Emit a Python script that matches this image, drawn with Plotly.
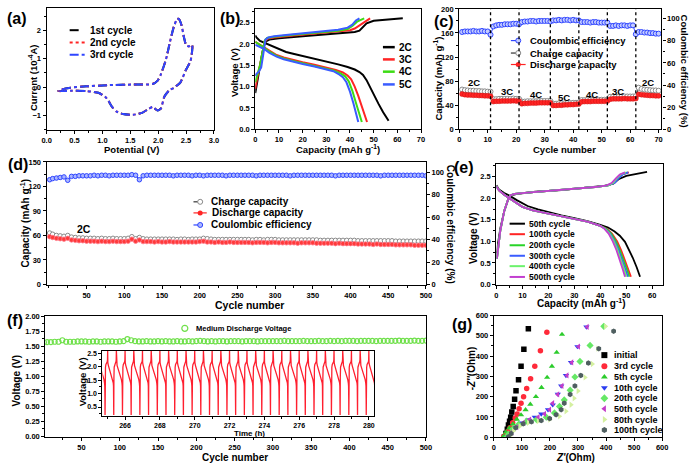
import plotly.graph_objects as go

W, H = 696, 468
FONT = "Liberation Sans, Arial, Helvetica, sans-serif"

# ---------------- (a) cyclic voltammetry ----------------
cv_potential = [0.21, 0.28, 0.43, 0.72, 1.13, 1.55, 1.90, 1.99, 2.05, 2.14, 2.22, 2.28, 2.34, 2.37, 2.42, 2.46, 2.50, 2.55, 2.61, 2.61,
                2.58, 2.49, 2.40, 2.28, 2.20, 2.11, 2.05, 1.99, 1.90, 1.83, 1.72, 1.55, 1.37, 1.25, 1.17, 1.11, 1.05, 0.93, 0.72, 0.43, 0.21]
cv_current = [-0.14, -0.08, -0.02, 0.03, 0.07, 0.09, 0.11, 0.23, 0.46, 0.98, 1.67, 2.13, 2.41, 2.41, 2.18, 1.78, 1.49, 1.44, 1.49, 1.30,
              0.92, 0.58, 0.17, -0.03, -0.11, -0.34, -0.75, -0.83, -0.70, -0.77, -0.90, -0.98, -0.95, -0.86, -0.69, -0.49, -0.34, -0.20, -0.14, -0.13, -0.14]
cv_names = ["1st cycle", "2nd cycle", "3rd cycle"]

# ---------------- (b) rate charge/discharge profiles ----------------
b_rates = ["2C", "3C", "4C", "5C"]
b_dis_cap = {
    "2C": [0, 0.5, 2, 4, 6, 8, 10, 13, 16, 20, 25, 30, 35, 39, 42, 44, 45.5, 47, 48.5, 50, 52, 54, 56.3],
    "3C": [0, 2, 4, 6, 9, 12, 16, 20, 25, 30, 34, 37, 39, 40.5, 42, 43.5, 45, 46.2, 47.2],
    "4C": [0, 2, 4, 6, 9, 12, 16, 20, 25, 30, 33, 36, 38, 39.5, 41, 42.5, 44, 45],
    "5C": [0, 2, 4, 6, 9, 12, 16, 20, 25, 30, 33, 35, 37, 38.5, 40, 41.5, 42.5, 43.5],
}
b_dis_v = {
    "2C": [2.2, 2.15, 2.07, 2.02, 1.98, 1.93, 1.88, 1.81, 1.77, 1.72, 1.65, 1.59, 1.52, 1.46, 1.4, 1.34, 1.27, 1.15, 0.98, 0.8, 0.6, 0.4, 0.2],
    "3C": [2.05, 1.98, 1.92, 1.85, 1.74, 1.68, 1.62, 1.57, 1.51, 1.45, 1.39, 1.33, 1.26, 1.17, 1.0, 0.78, 0.55, 0.35, 0.17],
    "4C": [2.05, 1.97, 1.9, 1.82, 1.72, 1.66, 1.6, 1.55, 1.49, 1.43, 1.38, 1.31, 1.24, 1.12, 0.9, 0.62, 0.35, 0.17],
    "5C": [1.98, 1.93, 1.87, 1.79, 1.7, 1.64, 1.58, 1.53, 1.47, 1.41, 1.36, 1.3, 1.22, 1.1, 0.88, 0.6, 0.38, 0.17],
}
b_chg_cap = {
    "2C": [0, 0.3, 1, 2, 3, 3.8, 4.5, 6, 10, 20, 30, 38, 42, 44, 45.5, 47, 50, 55, 62.3],
    "3C": [0, 0.3, 1, 2, 3, 4, 5, 8, 15, 25, 35, 40, 42, 44, 46, 48.5],
    "4C": [0, 0.3, 1, 2, 3, 4, 5, 8, 15, 25, 35, 39, 41, 43, 46],
    "5C": [0, 0.5, 1.5, 2.5, 3.5, 4.3, 5.5, 8, 15, 25, 35, 39, 41, 42.5, 44],
}
b_chg_v = {
    "2C": [0.85, 0.95, 1.15, 1.5, 1.8, 1.98, 2.06, 2.1, 2.13, 2.18, 2.22, 2.26, 2.28, 2.31, 2.4, 2.48, 2.54, 2.57, 2.6],
    "3C": [0.95, 1.05, 1.25, 1.5, 1.8, 2.05, 2.12, 2.15, 2.19, 2.24, 2.28, 2.32, 2.36, 2.43, 2.52, 2.6],
    "4C": [1.1, 1.18, 1.3, 1.5, 1.8, 2.08, 2.14, 2.17, 2.21, 2.26, 2.31, 2.35, 2.42, 2.52, 2.6],
    "5C": [1.25, 1.3, 1.35, 1.45, 1.8, 2.1, 2.15, 2.18, 2.22, 2.27, 2.33, 2.38, 2.45, 2.55, 2.6],
}

# ---------------- (c) rate capability ----------------
c_cycles = list(range(1, 71))
c_discharge = [58.5, 57.5, 57, 57, 56.5, 56.5, 56, 56, 55.5, 55.5, 55,
               46, 46.5, 46.5, 47, 47, 47, 47, 47.5, 47, 47,
               42.5, 43, 43, 43.5, 43.5, 43.5, 44, 44, 44, 44, 44,
               39.5, 39.5, 40, 40, 40.5, 40.5, 41, 41, 41.5, 42,
               45.5, 46, 46, 46, 46.5, 46.5, 46.5, 46.5, 46.5, 47,
               50, 50.5, 50.5, 50.5, 50.5, 51, 50.5, 50.5, 50.5, 51,
               58, 57.5, 57, 56.5, 56, 56, 55.5, 55.5]
c_charge = [66, 65, 64.5, 64, 64, 63.5, 63.5, 63, 63, 62.5, 62.5,
            50, 50, 50.5, 50.5, 50.5, 50.5, 50.5, 51, 50.5, 50.5,
            46, 46, 46.5, 46.5, 46.5, 46.5, 47, 47, 47, 47, 47,
            42.5, 42.5, 43, 43, 43, 43.5, 43.5, 44, 44, 44.5,
            48.5, 48.5, 49, 49, 49, 49, 49, 49, 49, 49.5,
            54, 54, 54, 54, 54.5, 54.5, 54.5, 54.5, 54.5, 55,
            69, 67, 66, 65.5, 65, 64.5, 64.5, 64]
c_ce = [88, 88.5, 88.5, 88.5, 89, 88.5, 88.5, 89, 88.5, 88.5, 85.5,
        93, 94, 94.5, 94.5, 95, 95, 95, 95.5, 95.5, 95,
        97, 97.5, 97.5, 98, 98, 97.5, 98, 98, 98, 98, 97.5,
        98.5, 98.5, 99, 98.5, 99, 99, 98.5, 99, 98.5, 98.5,
        97, 97, 97, 96.5, 97, 97, 96.5, 96.5, 96.5, 96.5,
        93.5, 93.5, 94, 93.5, 94, 94, 93.5, 94, 94, 86,
        88, 88, 87.5, 87.5, 87, 87, 86.5, 86.5]
c_boundaries = [11, 21, 32, 42, 52, 62]
c_rate_labels = ["2C", "3C", "4C", "5C", "4C", "3C", "2C"]
c_rate_label_x = [5.2, 16.7, 27, 36.9, 46.7, 55.9, 66.3]
c_rate_label_y = [77, 62, 57, 53, 57, 62, 77]

# ---------------- (d) long cycling at 2C ----------------
d_cycles = [1] + list(range(5, 501, 5))
d_charge = [63, 61.5, 60, 59.5, 59, 60, 58, 57.5, 57, 57, 56.5,
            56.5, 56.5, 56, 56.5, 56, 56, 56.5, 56, 56, 56,
            56.5, 58.5, 56, 57.5, 56, 55.5, 55.5, 55.5, 55.5, 55.5,
            55.5, 55.5, 55.5, 55, 55.5, 55.5, 55, 55.5, 55.5, 55.5,
            56.5, 56, 55.5, 55, 55, 55, 55, 55, 55, 55,
            55, 55, 55, 54.5, 55, 55, 54.5, 55, 55, 55,
            54.5, 54.5, 54.5, 54.5, 54.5, 54.5, 54.5, 54.5, 54.5, 54.5,
            54.5, 54, 54, 54, 54, 54, 54, 54, 54, 54,
            54, 53.5, 53.5, 53.5, 53.5, 53.5, 53.5, 53.5, 53.5, 53.5,
            53.5, 53, 53, 53, 53, 53, 53, 53, 53, 53]
d_discharge = [58.5, 57.5, 56.5, 56, 55.5, 56.5, 54.5, 54, 53.5, 53.5, 53,
               53, 53, 52.5, 53, 52.5, 52.5, 53, 52.5, 52.5, 52.5,
               53, 55.5, 53, 54.5, 52.5, 52.5, 52.5, 52, 52.5, 52,
               52, 52.5, 52, 52, 52, 52, 52, 52, 52, 52.5,
               53, 52, 52, 51.5, 52, 51.5, 51.5, 52, 51.5, 51.5,
               51.5, 51.5, 51.5, 51, 51.5, 51.5, 51.5, 51, 51.5, 51.5,
               51, 51, 51, 51, 51, 50.5, 51, 51, 51, 51,
               50.5, 50.5, 50.5, 50.5, 50.5, 50, 50.5, 50, 50, 50,
               50, 49.5, 49.5, 49.5, 49.5, 49, 49.5, 49, 49, 49,
               49, 48.5, 48.5, 48.5, 48.5, 48.5, 48, 48, 48, 48]
d_ce = [93.5, 94.5, 95, 95.5, 96, 93, 96.5, 96.5, 97, 97, 97,
        97, 97.5, 97, 97.5, 97.5, 97, 97.5, 97.5, 97.5, 97.5,
        97.5, 98, 97.5, 93.5, 97, 97.5, 97.5, 97.5, 97.5, 97.5,
        97.5, 97.5, 97, 97.5, 97.5, 97.5, 97.5, 97, 97.5, 97.5,
        97, 97.5, 97.5, 97.5, 97.5, 97.5, 97, 97.5, 97.5, 97.5,
        97.5, 97.5, 97.5, 97.5, 97, 97.5, 97.5, 97.5, 97.5, 97.5,
        97.5, 97.5, 97.5, 97, 97.5, 97.5, 97.5, 97.5, 97.5, 97.5,
        97.5, 97.5, 97.5, 97.5, 97.5, 97, 97.5, 97.5, 97.5, 97.5,
        97.5, 97.5, 97.5, 97.5, 97.5, 97.5, 97.5, 97, 97.5, 97.5,
        97.5, 97.5, 97.5, 97.5, 97.5, 97.5, 97.5, 97.5, 97.5, 97]

# ---------------- (e) profiles at selected cycles ----------------
e_names = ["50th cycle", "100th cycle", "200th cycle", "300th cycle", "400th cycle", "500th cycle"]
e_dis_v_50 = [2.30, 2.20, 2.12, 2.06, 1.95, 1.82, 1.74, 1.67, 1.60, 1.54, 1.47, 1.38, 1.32, 1.23, 1.13, 0.99, 0.82, 0.62, 0.40, 0.18]
e_dis_v_late = [2.28, 2.18, 2.08, 2.00, 1.90, 1.80, 1.72, 1.65, 1.59, 1.53, 1.46, 1.36, 1.29, 1.18, 1.00, 0.80, 0.57, 0.36, 0.18]
e_chg_v_50 = [0.72, 0.95, 1.30, 1.70, 1.97, 2.07, 2.10, 2.15, 2.19, 2.24, 2.29, 2.34, 2.44, 2.52, 2.57, 2.61]
e_chg_v_late = [0.60, 0.85, 1.25, 1.70, 1.97, 2.07, 2.10, 2.13, 2.17, 2.21, 2.26, 2.30, 2.36, 2.46, 2.55, 2.60]
e_dis_cap = {
    "50th cycle": [0, 1, 3, 5, 8, 12, 16, 20, 25, 30, 35, 40, 43, 45.5, 47.5, 49.5, 51, 52.5, 54, 55.3],
    "100th cycle": [0, 1, 3, 5, 7, 10, 14, 20, 25, 30, 35, 40, 42.5, 44.5, 46.5, 48, 49.5, 50.8, 51.8],
    "200th cycle": [0, 1, 3, 5, 7, 10, 14, 20, 25, 30, 35, 40, 42.3, 44.2, 46, 47.5, 49, 50.2, 51.2],
    "300th cycle": [0, 1, 3, 5, 7, 10, 14, 20, 25, 30, 35, 40, 42, 43.8, 45.5, 47, 48.5, 49.6, 50.6],
    "400th cycle": [0, 1, 3, 5, 7, 10, 14, 20, 25, 30, 35, 40, 41.8, 43.5, 45.2, 46.6, 48, 49.1, 50],
    "500th cycle": [0, 1, 3, 5, 7, 10, 14, 20, 25, 30, 35, 40, 41.6, 43.2, 44.8, 46.2, 47.6, 48.6, 49.5],
}
e_chg_cap = {
    "50th cycle": [0.2, 0.6, 1.5, 3, 4.5, 6, 8, 15, 25, 35, 42, 45, 47, 50, 54, 58],
    "100th cycle": [0.2, 0.6, 1.5, 3, 4.5, 5.5, 7, 12, 20, 30, 38, 43, 45, 46.5, 48, 51],
    "200th cycle": [0.2, 0.6, 1.5, 3, 4.5, 5.5, 7, 12, 20, 30, 38, 43, 45.3, 46.8, 48.3, 50.5],
    "300th cycle": [0.2, 0.6, 1.5, 3, 4.5, 5.5, 7, 12, 20, 30, 38, 43, 45.6, 47, 48.6, 50.8],
    "400th cycle": [0.2, 0.6, 1.5, 3, 4.5, 5.5, 7, 12, 20, 30, 38, 43, 45, 46.3, 47.8, 49.8],
    "500th cycle": [0.2, 0.6, 1.5, 3, 4.5, 5.5, 7, 12, 20, 30, 38, 42.5, 44.5, 46, 47.5, 49.5],
}

# ---------------- (f) medium discharge voltage + inset ----------------
f_cycles = [1] + list(range(5, 501, 5))
f_mdv = [1.565, 1.57, 1.57, 1.575, 1.575, 1.60, 1.575, 1.575, 1.575, 1.58, 1.58,
         1.58, 1.575, 1.58, 1.58, 1.575, 1.58, 1.58, 1.58, 1.575, 1.58,
         1.585, 1.62, 1.60, 1.585, 1.58, 1.58, 1.585, 1.58, 1.58, 1.585,
         1.58, 1.585, 1.58, 1.58, 1.585, 1.58, 1.58, 1.585, 1.58, 1.585,
         1.59, 1.585, 1.58, 1.585, 1.58, 1.585, 1.585, 1.58, 1.585, 1.585,
         1.585, 1.58, 1.585, 1.585, 1.585, 1.58, 1.585, 1.585, 1.585, 1.585,
         1.585, 1.585, 1.59, 1.585, 1.585, 1.585, 1.585, 1.59, 1.585, 1.585,
         1.585, 1.59, 1.585, 1.585, 1.59, 1.585, 1.59, 1.585, 1.59, 1.59,
         1.59, 1.585, 1.59, 1.59, 1.59, 1.59, 1.585, 1.59, 1.59, 1.59,
         1.59, 1.59, 1.595, 1.59, 1.59, 1.59, 1.595, 1.59, 1.59, 1.595]
inset_peak_times = [264.5, 265.0, 265.5, 266.0, 266.5, 267.0, 267.5, 268.0, 268.5, 269.0, 269.5,
                    270.0, 270.5, 271.0, 271.5, 272.0, 272.5, 273.0, 273.5, 274.0, 274.5,
                    275.0, 275.5, 276.0, 276.5, 277.0, 277.5, 278.0, 278.5, 279.0, 279.5, 280.0]
cycle_time_after_peak = [0.0, 0.01, 0.04, 0.10, 0.17, 0.24, 0.29, 0.32, 0.335, 0.345, 0.35, 0.36, 0.375, 0.40, 0.44, 0.475, 0.49]
cycle_voltage = [2.60, 2.15, 2.05, 1.92, 1.80, 1.66, 1.52, 1.40, 1.28, 0.80, 0.20, 1.60, 1.98, 2.08, 2.12, 2.18, 2.25]

# ---------------- (g) Nyquist plots ----------------
g_names = ["initial", "3rd cycle", "5th cycle", "10th cycle", "20th cycle", "50th cycle", "80th cycle", "100th cycle"]
g_zre = {
    "initial": [38, 43, 48, 52, 56, 60, 64, 69, 74, 79, 88, 97, 107, 123],
    "3rd cycle": [35, 41, 50, 58, 67, 76, 83, 90, 97, 106, 117, 131, 146, 166, 189],
    "5th cycle": [35, 43, 55, 68, 82, 97, 113, 130, 150, 170, 190, 207, 224, 243],
    "10th cycle": [47, 58, 76, 99, 123, 146, 169, 193, 210, 228, 240, 257, 275, 298, 330],
    "20th cycle": [47, 52, 67, 88, 117, 152, 187, 216, 234, 251, 272, 289, 307, 343, 392],
    "50th cycle": [52, 64, 82, 105, 128, 158, 181, 199, 210, 228, 243, 261, 278, 302, 333],
    "80th cycle": [58, 70, 93, 123, 158, 199, 234, 257, 275, 286, 300, 325, 351, 371, 398],
    "100th cycle": [52, 62, 78, 105, 134, 169, 199, 222, 240, 251, 272, 289, 310, 337, 374, 427],
}
g_zim = {
    "initial": [2, 18, 39, 60, 79, 98, 124, 152, 187, 229, 284, 350, 434, 535],
    "3rd cycle": [2, 10, 28, 47, 71, 95, 115, 141, 168, 200, 240, 289, 350, 426, 518],
    "5th cycle": [5, 25, 45, 65, 88, 110, 135, 162, 200, 245, 295, 350, 418, 507],
    "10th cycle": [2, 18, 47, 71, 87, 99, 115, 136, 160, 213, 253, 305, 369, 447, 544],
    "20th cycle": [2, 15, 39, 63, 79, 87, 99, 120, 152, 184, 232, 297, 374, 453, 547],
    "50th cycle": [2, 23, 50, 71, 87, 99, 115, 136, 168, 211, 253, 305, 369, 447, 544],
    "80th cycle": [7, 31, 55, 71, 79, 87, 103, 128, 160, 192, 228, 295, 361, 437, 547],
    "100th cycle": [2, 18, 47, 66, 76, 82, 92, 111, 136, 168, 211, 253, 305, 366, 437, 523],
}

# ---------------- styles ----------------
RED = "#ff2424"
BLUE = "#2f45ff"
b_colors = {"2C": "black", "3C": RED, "4C": "#3ddc14", "5C": "#3a5cff"}
e_colors = {"50th cycle": "black", "100th cycle": RED, "200th cycle": "#28d428",
            "300th cycle": "#3a5cff", "400th cycle": "#6cf26c", "500th cycle": "#c23fd0"}
g_style = {
    "initial": ("square", "black"),
    "3rd cycle": ("circle", "#ff2a3a"),
    "5th cycle": ("triangle-up", "#2ccc2c"),
    "10th cycle": ("triangle-down", "#2a3cf0"),
    "20th cycle": ("diamond", "#66e866"),
    "50th cycle": ("triangle-left", "#c43cc8"),
    "80th cycle": ("triangle-right", "#d4f0a0"),
    "100th cycle": ("hexagon", "#4f5f60"),
}


def xdom(p0, p1):
    return [p0 / W, p1 / W]


def ydom(p0, p1):
    return [1 - p1 / H, 1 - p0 / H]


def ax(**kw):
    d = dict(showline=True, linecolor="black", linewidth=1.2, mirror=True,
             ticks="outside", ticklen=3, tickwidth=1, tickcolor="black",
             tickfont=dict(family=FONT, size=7.5, color="black", weight="bold"),
             showgrid=False, zeroline=False, fixedrange=True)
    d.update(kw)
    return d


def minor(dt, t0=0):
    return dict(ticks="outside", ticklen=2, tickwidth=1, tickcolor="black", dtick=dt, tick0=t0)


fig = go.Figure()

# (a)
cv_styles = [("black", "dash"), (RED, "dot"), (BLUE, "dashdot")]
for name, (col, dash) in zip(cv_names, cv_styles):
    fig.add_trace(go.Scatter(x=cv_potential, y=cv_current, mode="lines", name=name,
                             line=dict(color=col, dash=dash, width=2, shape="spline", smoothing=0.5),
                             xaxis="x", yaxis="y", showlegend=False))
# (b)
for r in b_rates:
    fig.add_trace(go.Scatter(x=b_dis_cap[r], y=b_dis_v[r], mode="lines", line=dict(color=b_colors[r], width=2),
                             xaxis="x2", yaxis="y2", showlegend=False))
    fig.add_trace(go.Scatter(x=b_chg_cap[r], y=b_chg_v[r], mode="lines", line=dict(color=b_colors[r], width=2),
                             xaxis="x2", yaxis="y2", showlegend=False))
# (c)
fig.add_trace(go.Scatter(x=c_cycles, y=c_ce, mode="lines+markers", line=dict(color=BLUE, width=1),
                         marker=dict(symbol="circle", size=5, color="#c4ccff", line=dict(color=BLUE, width=1)),
                         xaxis="x3", yaxis="y4", showlegend=False))
fig.add_trace(go.Scatter(x=c_cycles, y=c_charge, mode="lines+markers", line=dict(color="#333333", width=1),
                         marker=dict(symbol="circle", size=5, color="white", line=dict(color="#8a8a8a", width=1)),
                         xaxis="x3", yaxis="y3", showlegend=False))
fig.add_trace(go.Scatter(x=c_cycles, y=c_discharge, mode="lines+markers", line=dict(color=RED, width=1),
                         marker=dict(symbol="circle", size=5, color=RED, line=dict(color="#d01010", width=0.5)),
                         xaxis="x3", yaxis="y3", showlegend=False))
# (d)
fig.add_trace(go.Scatter(x=d_cycles, y=d_ce, mode="lines+markers", line=dict(color=BLUE, width=1),
                         marker=dict(symbol="circle", size=4.5, color="#aab6ff", line=dict(color=BLUE, width=1)),
                         xaxis="x5", yaxis="y6", showlegend=False))
fig.add_trace(go.Scatter(x=d_cycles, y=d_charge, mode="lines+markers", line=dict(color="#333333", width=1),
                         marker=dict(symbol="circle", size=4.5, color="white", line=dict(color="#8a8a8a", width=1)),
                         xaxis="x5", yaxis="y5", showlegend=False))
fig.add_trace(go.Scatter(x=d_cycles, y=d_discharge, mode="lines+markers", line=dict(color=RED, width=1),
                         marker=dict(symbol="circle", size=4.5, color="#ff3a3a", line=dict(color="#ff7a8a", width=0.8)),
                         xaxis="x5", yaxis="y5", showlegend=False))
# (e)
for n in e_names:
    dv = e_dis_v_50 if n == "50th cycle" else e_dis_v_late
    cv = e_chg_v_50 if n == "50th cycle" else e_chg_v_late
    fig.add_trace(go.Scatter(x=e_dis_cap[n], y=dv, mode="lines", line=dict(color=e_colors[n], width=1.8),
                             xaxis="x7", yaxis="y7", showlegend=False))
    fig.add_trace(go.Scatter(x=e_chg_cap[n], y=cv, mode="lines", line=dict(color=e_colors[n], width=1.8),
                             xaxis="x7", yaxis="y7", showlegend=False))
# (f)
fig.add_trace(go.Scatter(x=f_cycles, y=f_mdv, mode="markers",
                         marker=dict(symbol="circle-open", size=5, color="#6fe04a", line=dict(width=1.2)),
                         xaxis="x8", yaxis="y8", showlegend=False))
inset_t, inset_v = [], []
for tp in inset_peak_times:
    for dt, v in zip(cycle_time_after_peak, cycle_voltage):
        inset_t.append(tp + dt)
        inset_v.append(v)
fig.add_trace(go.Scatter(x=inset_t, y=inset_v, mode="lines", line=dict(color="#ff1f2f", width=1.3),
                         xaxis="x9", yaxis="y9", showlegend=False))
# (g)
for n in g_names:
    sym, col = g_style[n]
    fig.add_trace(go.Scatter(x=g_zre[n], y=g_zim[n], mode="markers",
                             marker=dict(symbol=sym, size=5.5, color=col, line=dict(width=0)),
                             xaxis="x10", yaxis="y10", showlegend=False))

# ---------------- legends (drawn on a full-figure pixel overlay) ----------------
def leg_line(x0, x1, y, color, dash="solid", width=2):
    fig.add_trace(go.Scatter(x=[x0, x1], y=[y, y], mode="lines", line=dict(color=color, dash=dash, width=width),
                             xaxis="x11", yaxis="y11", showlegend=False, hoverinfo="skip"))


def leg_marker(x, y, symbol, color, size=6, line_color=None, line_width=0):
    fig.add_trace(go.Scatter(x=[x], y=[y], mode="markers",
                             marker=dict(symbol=symbol, size=size, color=color,
                                         line=dict(color=line_color or color, width=line_width)),
                             xaxis="x11", yaxis="y11", showlegend=False, hoverinfo="skip"))


def txt(x, y, s, size=10, anchor="left", angle=0, bold=True):
    fig.add_annotation(x=x / W, y=1 - y / H, xref="paper", yref="paper", text=(f"<b>{s}</b>" if bold else s),
                       showarrow=False, xanchor=anchor if angle == 0 else "center", yanchor="middle",
                       textangle=angle, font=dict(family=FONT, size=size, color="black"))


# (a)
for (name, (col, dash)), yy in zip(zip(cv_names, cv_styles), [26.7, 39.3, 51.7]):
    leg_line(65.7, 81.7, yy, col, dash, 2)
    txt(84, yy, name, 10)
# (b)
for r, yy in zip(b_rates, [44, 56.5, 69, 82]):
    leg_line(384, 396, yy, b_colors[r], "solid", 2.5)
    txt(398, yy, r, 10)
# (c)
leg_line(514, 529, 37.3, BLUE, "dash", 1.2)
leg_marker(521.5, 37.3, "circle", "#c4ccff", 5, BLUE, 1)
txt(531, 37.3, "Coulombic efficiency", 9.5)
leg_line(514, 529, 50, "#333333", "dash", 1.2)
leg_marker(521.5, 50, "circle", "white", 5, "#8a8a8a", 1)
txt(531, 50, "Charge capacity", 9.5)
leg_line(514, 529, 61.7, RED, "solid", 1.2)
leg_marker(521.5, 61.7, "circle", RED, 5)
txt(531, 61.7, "Discharge capacity", 9.5)
# (d)
leg_line(191.5, 205, 201.7, "#333333", "dash", 1.2)
leg_marker(198.3, 201.7, "circle", "white", 5, "#8a8a8a", 1)
txt(207, 201.7, "Charge capacity", 10)
leg_line(191.5, 205, 213, RED, "solid", 1.2)
leg_marker(198.3, 213, "circle", RED, 5)
txt(208, 213, "Discharge capacity", 10)
leg_line(191.5, 205, 225.3, BLUE, "dash", 1.2)
leg_marker(198.3, 225.3, "circle", "#aab6ff", 5, BLUE, 1)
txt(207, 225.3, "Coulombic efficiency", 10)
# (e)
for n, yy in zip(e_names, [224, 234.7, 246, 256.7, 267.3, 278.3]):
    leg_line(512.7, 528.3, yy, e_colors[n], "solid", 2)
    txt(530, yy, n, 8.5)
# (f)
leg_marker(182.7, 330.7, "circle-open", "#6fe04a", 6, None, 1.2)
txt(191.7, 330.7, "Medium Discharge Voltage", 7.5)
# (g)
for n, yy in zip(g_names, [358, 369.3, 380.3, 391.3, 402, 412.7, 423.7, 434.3]):
    sym, col = g_style[n]
    leg_marker(609, yy, sym, col, 6)
    txt(617, yy, n, 9)

# ---------------- reference lines & labels in (c), (d) ----------------
for b in c_boundaries:
    fig.add_shape(type="line", x0=b, x1=b, y0=0, y1=1, xref="x3", yref="y3 domain",
                  line=dict(color="black", width=1.3, dash="dot"))
for lab, lx, ly in zip(c_rate_labels, c_rate_label_x, c_rate_label_y):
    fig.add_annotation(x=lx, y=ly, xref="x3", yref="y3", text=f"<b>{lab}</b>", showarrow=False,
                       font=dict(family=FONT, size=9.5, color="black"))
fig.add_annotation(x=46.5, y=68, xref="x5", yref="y5", text="<b>2C</b>", showarrow=False,
                   font=dict(family=FONT, size=10.5, color="black"))

# ---------------- axis titles & panel labels ----------------
cap_t = "Capacity (mAh g<sup>-1</sup>)"
txt(129, 148, "Potential (V)", 9.5, "center")
txt(28, 75, "Current (10<sup>-4</sup>A)", 9.5, angle=-90)
txt(338, 148, cap_t, 9.5, "center")
txt(233, 70, "Voltage (V)", 9.5, angle=-90)
txt(568, 148, "Cycle number", 9.5, "center")
txt(439, 76, cap_t, 9.5, angle=-90)
txt(690, 68, "Coulombic efficiency (%)", 9.5, angle=90)
txt(248, 307, "Cycle number", 10.5, "center")
txt(20, 224, cap_t, 10, angle=-90)
txt(452, 225, "Coulombic efficiency (%)", 10, angle=90)
txt(585, 305, cap_t, 10, "center")
txt(476, 239, "Voltage (V)", 10, angle=-90)
txt(234, 462, "Cycle number", 10, "center")
txt(12, 384, "Voltage (V)", 10, angle=-90)
txt(248, 438, "Time (h)", 8, "center")
txt(79, 385, "Voltage (V)", 9.5, angle=-90)
txt(580, 462, "<i>Z'</i>(Ohm)", 10, "center")
txt(474, 372, "<i>-Z''</i>(Ohm)", 10, angle=-90)

for lab, lx, ly in [("(a)", 12, 15), ("(b)", 229, 15), ("(c)", 446, 18), ("(d)", 13, 164),
                    ("(e)", 466, 167), ("(f)", 10, 323), ("(g)", 464, 327)]:
    txt(lx, ly, lab, 16, "center")

inset_tickfont = dict(family=FONT, size=7, color="black", weight="bold")

# ---------------- layout ----------------
fig.update_layout(
    width=W, height=H, margin=dict(l=0, r=0, t=0, b=0),
    paper_bgcolor="white", plot_bgcolor="rgba(0,0,0,0)",
    font=dict(family=FONT, color="black"), showlegend=False,
    xaxis=ax(domain=xdom(42.3, 212.3), range=[0, 3], dtick=0.5, tickformat=".1f", minor=minor(0.25), anchor="y"),
    yaxis=ax(domain=ydom(4, 128), range=[-1.5, 2.8], tickvals=[-1, 0, 1, 2], minor=minor(0.5, -1.5), anchor="x"),
    xaxis2=ax(domain=xdom(254.3, 422.7), range=[0, 70], dtick=10, minor=minor(5), anchor="y2"),
    yaxis2=ax(domain=ydom(5, 127.7), range=[0, 2.82], dtick=0.5, tickformat=".1f", minor=minor(0.25), anchor="x2"),
    xaxis3=ax(domain=xdom(461.5, 667), range=[0, 71], dtick=10, minor=minor(5), anchor="y3"),
    yaxis3=ax(domain=ydom(5, 127.7), range=[0, 200], dtick=40, minor=minor(20), anchor="x3", mirror=False),
    yaxis4=ax(range=[0, 108.9], dtick=20, minor=minor(10), overlaying="y3", side="right", anchor="x3", mirror=False),
    xaxis5=ax(domain=xdom(42.3, 427.7), range=[-3, 500], tickvals=list(range(50, 501, 50)), minor=minor(25), anchor="y5"),
    yaxis5=ax(domain=ydom(161, 286), range=[0, 150], dtick=30, minor=minor(15), anchor="x5", mirror=False),
    yaxis6=ax(range=[0, 109.4], dtick=20, minor=minor(10), overlaying="y5", side="right", anchor="x5", mirror=False),
    xaxis7=ax(domain=xdom(499.3, 669), range=[0, 64.3], dtick=10, minor=minor(5), anchor="y7"),
    yaxis7=ax(domain=ydom(163.3, 286), range=[0, 2.79], dtick=0.5, tickformat=".1f", minor=minor(0.25), anchor="x7"),
    xaxis8=ax(domain=xdom(41, 427.7), range=[2.8, 500], tickvals=list(range(50, 501, 50)), minor=minor(25), anchor="y8"),
    yaxis8=ax(domain=ydom(318.3, 441), range=[0, 2], dtick=0.25, tickformat=".2f", minor=minor(0.125), anchor="x8"),
    xaxis9=ax(domain=xdom(99, 375), range=[264.7, 280.3], tickvals=list(range(266, 281, 2)), minor=minor(1),
              anchor="y9", tickfont=inset_tickfont),
    yaxis9=ax(domain=ydom(353.3, 420), range=[0.17, 2.6], tickvals=[0.5, 1.0, 1.5, 2.0, 2.5], tickformat=".1f",
              minor=minor(0.25), anchor="x9", tickfont=inset_tickfont),
    xaxis10=ax(domain=xdom(496.7, 667.7), range=[0, 600], dtick=100, minor=minor(50), anchor="y10"),
    yaxis10=ax(domain=ydom(317.7, 441.7), range=[0, 600], dtick=100, minor=minor(50), anchor="x10"),
    xaxis11=dict(domain=[0, 1], range=[0, W], visible=False, fixedrange=True, anchor="y11"),
    yaxis11=dict(domain=[0, 1], range=[H, 0], visible=False, fixedrange=True, anchor="x11"),
)

fig.write_html("out.html")
